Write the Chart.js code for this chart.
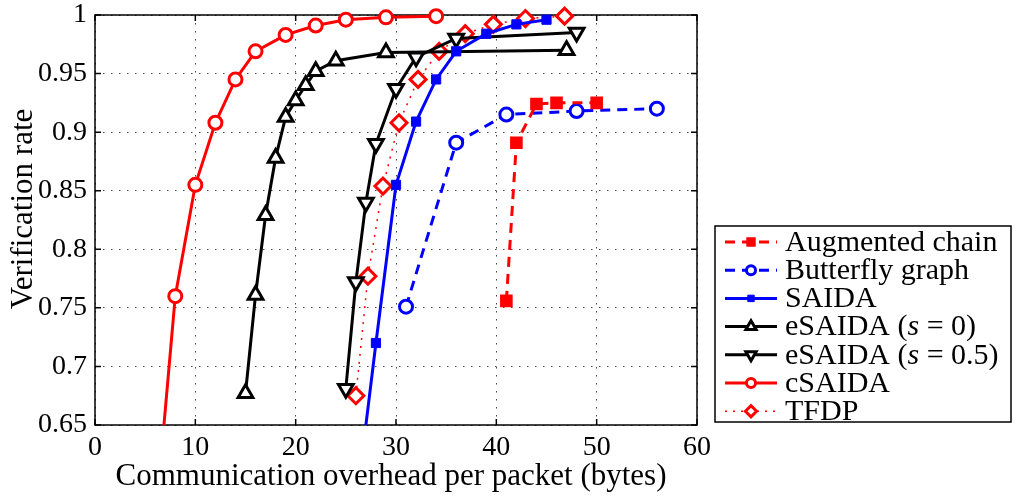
<!DOCTYPE html>
<html>
<head>
<meta charset="utf-8">
<script src="https://cdn.jsdelivr.net/npm/chart.js@4"></script>
<style>
  html, body { margin: 0; padding: 0; background: #fff; }
  #wrap { width: 1016px; height: 496px; }
</style>
</head>
<body>
<div id="wrap"><canvas id="chart"></canvas></div>
<script>
// axis ticks
const xTicks = [0, 10, 20, 30, 40, 50, 60];
const yTicks = [0.65, 0.7, 0.75, 0.8, 0.85, 0.9, 0.95, 1];
const xTitle = 'Communication overhead per packet (bytes)';
const yTitle = 'Verification rate';

// series names (legend order)
const seriesNames = ['Augmented chain', 'Butterfly graph', 'SAIDA', 'eSAIDA (s = 0)', 'eSAIDA (s = 0.5)', 'cSAIDA', 'TFDP'];

// values
const augX = [41, 42, 44, 46, 50];
const augY = [0.756, 0.891, 0.924, 0.925, 0.925];
const butX = [31, 36, 41, 48, 56];
const butY = [0.751, 0.891, 0.915, 0.918, 0.920];
const saidaX = [26, 28, 30, 32, 34, 36, 39, 42, 45];
const saidaY = [0.58, 0.720, 0.855, 0.909, 0.945, 0.969, 0.984, 0.992, 0.996];
const es0X = [15, 16, 17, 18, 19, 20, 21, 22, 24, 29, 47];
const es0Y = [0.677, 0.761, 0.829, 0.878, 0.913, 0.927, 0.940, 0.952, 0.961, 0.968, 0.970];
const es5X = [25, 26, 27, 28, 30, 32, 36, 48];
const es5Y = [0.681, 0.772, 0.840, 0.890, 0.937, 0.964, 0.980, 0.985];
const csX = [6, 8, 10, 12, 14, 16, 19, 22, 25, 29, 34];
const csY = [0.565, 0.760, 0.855, 0.908, 0.945, 0.969, 0.983, 0.991, 0.996, 0.998, 0.999];
const tfX = [26, 27.2, 28.7, 30.3, 32.2, 34.3, 36.9, 39.7, 42.9, 46.8];
const tfY = [0.675, 0.777, 0.854, 0.908, 0.945, 0.969, 0.984, 0.992, 0.997, 0.999];

const FONT = 'Liberation Serif';
const RED = '#ff0000', BLUE = '#0000ff', BLACK = '#000000';

const pts = (xs, ys) => xs.map((x, i) => ({ x: x, y: ys[i] }));

function series(name, xs, ys, color, style, extra) {
  return Object.assign({
    label: name,
    data: pts(xs, ys),
    borderColor: color,
    pointBorderColor: color,
    pointBackgroundColor: '#fff',
    borderWidth: 3,
    pointBorderWidth: 3,
    pointStyle: style,
    pointRadius: 6.5,
    tension: 0,
    fill: false,
    clip: { left: 0, right: 10, top: 12, bottom: 0 }
  }, extra || {});
}

const datasets = [
  series(seriesNames[0], augX, augY, RED, 'rect', { borderDash: [10, 7], pointBackgroundColor: RED, pointRadius: 7.5, pointBorderWidth: 2 }),
  series(seriesNames[1], butX, butY, BLUE, 'circle', { borderDash: [10, 7] }),
  series(seriesNames[2], saidaX, saidaY, BLUE, 'rect', { pointBackgroundColor: BLUE, pointRadius: 6.5, pointBorderWidth: 1 }),
  series(seriesNames[3], es0X, es0Y, BLACK, 'triangle', { pointRadius: 8.5 }),
  series(seriesNames[4], es5X, es5Y, BLACK, 'triangle', { pointRadius: 8.5, pointRotation: 180 }),
  series(seriesNames[5], csX, csY, RED, 'circle', {}),
  series(seriesNames[6], tfX, tfY, RED, 'rectRot', { borderWidth: 1.5, borderDash: [2, 6], pointRadius: 8 })
];

// frame around the plot with inward ticks, plus axis titles
const framePlugin = {
  id: 'frame',
  beforeDatasetsDraw(chart) {
    const { ctx, chartArea: a, scales } = chart;
    ctx.save();
    ctx.strokeStyle = '#000';
    ctx.lineWidth = 1.5;
    ctx.beginPath();
    xTicks.forEach(v => {
      const px = scales.x.getPixelForValue(v);
      ctx.moveTo(px, a.bottom); ctx.lineTo(px, a.bottom - 6);
      ctx.moveTo(px, a.top); ctx.lineTo(px, a.top + 6);
    });
    yTicks.forEach(v => {
      const py = scales.y.getPixelForValue(v);
      ctx.moveTo(a.left, py); ctx.lineTo(a.left + 6, py);
      ctx.moveTo(a.right, py); ctx.lineTo(a.right - 6, py);
    });
    ctx.stroke();
    ctx.strokeRect(a.left, a.top, a.right - a.left, a.bottom - a.top);

    ctx.fillStyle = '#000';
    ctx.font = '31px "' + FONT + '"';
    ctx.textAlign = 'center';
    ctx.textBaseline = 'alphabetic';
    ctx.fillText(xTitle, 391, 485);
    ctx.translate(32, 209);
    ctx.rotate(-Math.PI / 2);
    ctx.fillText(yTitle, 0, 0);
    ctx.restore();
  }
};

// boxed legend to the right of the axes
const legendPlugin = {
  id: 'boxLegend',
  afterDraw(chart) {
    const ctx = chart.ctx;
    const bx = 715, by = 226, bw = 296, bh = 196;
    ctx.save();
    ctx.fillStyle = '#fff';
    ctx.fillRect(bx, by, bw, bh);
    ctx.strokeStyle = '#000';
    ctx.lineWidth = 1.5;
    ctx.strokeRect(bx, by, bw, bh);
    ctx.textBaseline = 'middle';
    chart.data.datasets.forEach((ds, i) => {
      const y = by + 16 + i * 28.2;
      ctx.strokeStyle = ds.borderColor;
      ctx.lineWidth = ds.borderWidth;
      ctx.setLineDash(ds.borderDash || []);
      ctx.beginPath();
      ctx.moveTo(725, y); ctx.lineTo(777, y);
      ctx.stroke();
      ctx.setLineDash([]);
      ctx.fillStyle = ds.pointBackgroundColor;
      ctx.strokeStyle = ds.pointBorderColor;
      ctx.lineWidth = ds.pointBorderWidth;
      Chart.helpers.drawPoint(ctx, {
        pointStyle: ds.pointStyle,
        rotation: ds.pointRotation || 0,
        radius: ds.pointRadius * 0.7,
        borderWidth: ds.pointBorderWidth
      }, 751, y);
      // label, with math italic s
      ctx.fillStyle = '#000';
      let x = 785;
      const m = ds.label.match(/^(.*\()s(.*)$/);
      const parts = m ? [[m[1], ''], ['s', 'italic '], [m[2], '']] : [[ds.label, '']];
      parts.forEach(p => {
        ctx.font = p[1] + '30px "' + FONT + '"';
        ctx.fillText(p[0], x, y + 1);
        x += ctx.measureText(p[0]).width;
      });
    });
    ctx.restore();
  }
};

new Chart(document.getElementById('chart'), {
  type: 'line',
  data: { datasets: datasets },
  options: {
    responsive: true,
    maintainAspectRatio: false,
    animation: false,
    events: [],
    layout: { padding: { left: 0, right: 319, top: 15, bottom: 0 } },
    plugins: { legend: { display: false }, tooltip: { enabled: false } },
    scales: {
      x: {
        type: 'linear',
        min: 0, max: 60,
        afterBuildTicks: s => { s.ticks = xTicks.map(v => ({ value: v })); },
        afterFit: s => { s.height = 71; s.paddingLeft = 0; s.paddingRight = 0; },
        ticks: { color: '#000', padding: 6, font: { family: FONT, size: 28 }, callback: v => String(v) },
        grid: { color: '#444', lineWidth: 1, drawTicks: false },
        border: { display: false, dash: [1.5, 6.5] }
      },
      y: {
        type: 'linear',
        min: 0.65, max: 1,
        afterBuildTicks: s => { s.ticks = yTicks.map(v => ({ value: v })); },
        afterFit: s => { s.width = 95; s.paddingTop = 0; s.paddingBottom = 0; },
        ticks: { color: '#000', padding: 8, font: { family: FONT, size: 28 }, callback: v => String(+v.toFixed(2)) },
        grid: { color: '#444', lineWidth: 1, drawTicks: false },
        border: { display: false, dash: [1.5, 6.5] }
      }
    }
  },
  plugins: [framePlugin, legendPlugin]
});
</script>
</body>
</html>
